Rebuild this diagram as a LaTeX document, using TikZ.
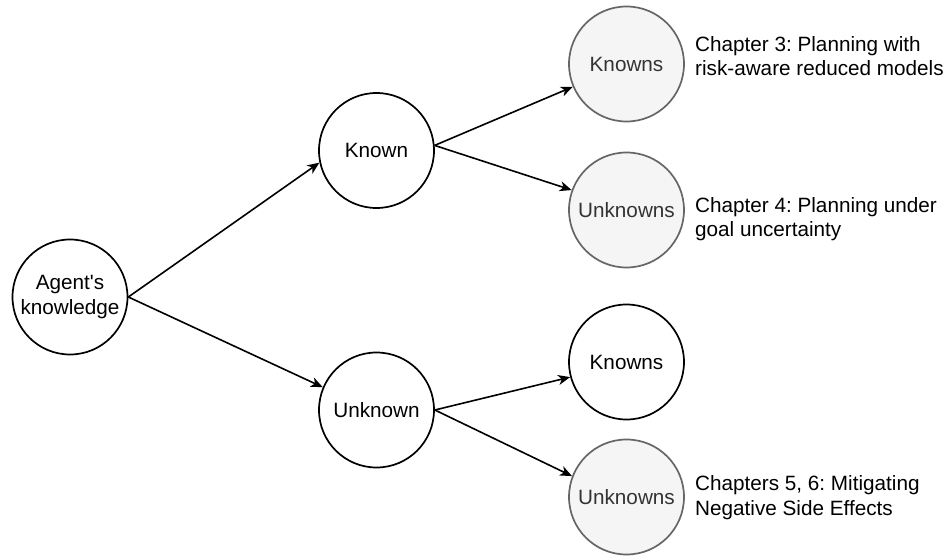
\documentclass[tikz,border=0pt]{standalone}
\usepackage{fontspec}
\setmainfont{Liberation Sans}
\usetikzlibrary{arrows.meta}
\definecolor{softfill}{HTML}{F5F5F5}
\definecolor{softline}{HTML}{666666}
\definecolor{softtext}{HTML}{333333}
\frenchspacing
\begin{document}
\begin{tikzpicture}[x=1pt,y=-1pt,
  every node/.style={font=\fontsize{20.7}{24.5}\selectfont},
  state/.style={circle,draw=black,fill=white,line width=1.7pt,minimum size=115pt,inner sep=0pt,align=center},
  faded/.style={state,draw=softline,fill=softfill,text=softtext},
  note/.style={anchor=west,align=left,inner sep=0pt},
  link/.style={line width=1.6pt,-{Stealth[length=12pt,width=10pt,inset=3.5pt]}}]
\useasboundingbox (0,0) rectangle (951,556);

% tree of nodes
\node[state] (agent) at (70,297) {Agent\textquotesingle s\\knowledge};
\node[state] (known) at (376.5,150.5) {Known};
\node[state] (unknown) at (376.5,410) {Unknown};
\node[faded] (kk) at (626.5,64) {Knowns};
\node[faded] (ku) at (626.5,210) {Unknowns};
\node[state] (uk) at (626.5,362) {Knowns};
\node[faded] (uu) at (626.5,497) {Unknowns};

% chapter notes
\node[note] (n1) at (695,56) {Chapter 3: Planning with\\risk-aware reduced models};
\node[note] (n2) at (695,219) {Chapter 4: Planning under\\goal uncertainty};
\node[note] (n3) at (695,497.5) {Chapters 5, 6: Mitigating\\Negative Side Effects};

% connectors
\draw[link] (agent.east) -- (known.192);
\draw[link] (agent.east) -- (unknown.157);
\draw[link] (known.5) -- (kk.203);
\draw[link] (known.5) -- (ku.160);
\draw[link] (unknown.east) -- (uk.195);
\draw[link] (unknown.east) -- (uu.159);
\end{tikzpicture}
\end{document}
